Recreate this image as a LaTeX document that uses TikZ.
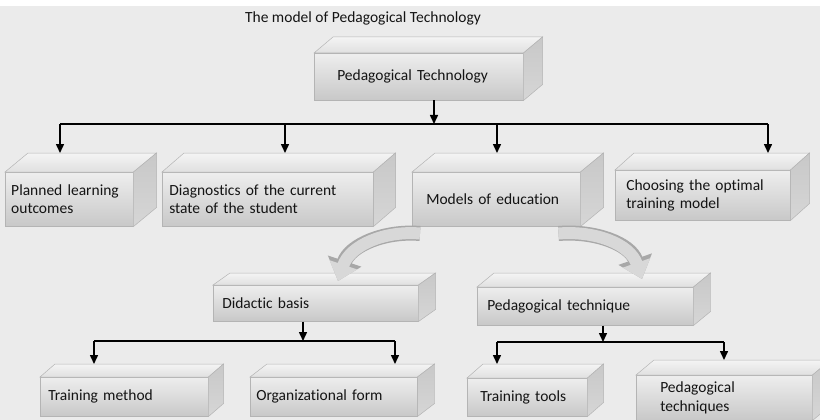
\documentclass[tikz,border=0pt]{standalone}
\usepackage{fontspec}
\setmainfont{Carlito}[RawFeature={-liga;-clig;-calt}]
\usepackage{tikz}
\usetikzlibrary{arrows.meta}
\definecolor{Pbg}{RGB}{235,235,235}
\definecolor{Pfront}{RGB}{238,238,238}
\definecolor{Pfront1}{RGB}{200,200,200}
\definecolor{Ptop}{RGB}{244,244,244}
\definecolor{Ptop1}{RGB}{224,224,224}
\definecolor{Pside}{RGB}{200,200,200}
\definecolor{Pside1}{RGB}{214,214,214}
\definecolor{Pedge}{RGB}{180,180,180}
\definecolor{Ptext}{RGB}{20,20,20}
\definecolor{Pswoosh}{RGB}{216,216,216}
\definecolor{Pswoosh1}{RGB}{168,168,168}
\newcommand\pfont{\fontsize{15.5}{18.5}\selectfont}
\tikzset{
    cube/.style={anchor=north west, inner ysep=0pt, align=left,
                 top color=Pfront, bottom color=Pfront1, draw=Pedge,
                 line width=0.5pt, font=\pfont, text=Ptext},
    cubetop/.style={top color=Ptop, bottom color=Ptop1, draw=Pedge, line width=0.5pt},
    cubeside/.style={top color=Pside, bottom color=Pside1, draw=Pedge, line width=0.5pt},
    link/.style={draw=black, line width=1.5pt},
    arr/.style={link, -{Triangle[width=8pt,length=9pt]}},
    swoosh/.style={draw=Pswoosh, line width=12pt, -{Triangle[width=28pt,length=17pt]}},
    swooshedge/.style={draw=Pswoosh1, line width=15pt, -{Triangle[width=34pt,length=21pt]}}
}

\begin{document}
\begin{tikzpicture}[x=1pt, y=-1pt]
    \useasboundingbox (0,0) rectangle (820,420);
    \fill[Pbg] (0,0) rectangle (820,420);
    \fill[white] (0,0) rectangle (820,6);

    \node[font=\pfont, text=Ptext, anchor=base] (title) at (363,23)
            {The model of Pedagogical Technology};

    % front faces
    \node[cube, inner xsep=23pt, text width=163pt, minimum height=47pt] (ptech) at (314,53)
            {Pedagogical Technology};
    \node[cube, inner xsep=6pt, text width=116pt, minimum height=54pt] (plan) at (5,172)
            {Planned learning\\outcomes};
    \node[cube, inner xsep=7pt, text width=197pt, minimum height=54pt] (diag) at (162,172)
            {Diagnostics of the current\\state of the student};
    \node[cube, inner xsep=14pt, text width=140pt, minimum height=54pt] (models) at (412,172)
            {Models of education};
    \node[cube, inner xsep=11pt, text width=153pt, minimum height=50pt] (choose) at (615,170)
            {Choosing the optimal\\training model};
    \node[cube, inner xsep=9pt, text width=187pt, minimum height=36pt] (didactic) at (213,285)
            {Didactic basis};
    \node[cube, inner xsep=10pt, text width=196pt, minimum height=38pt] (pedtech) at (477,287)
            {Pedagogical technique};
    \node[cube, inner xsep=8pt, text width=152pt, minimum height=39pt] (method) at (40,377)
            {Training method};
    \node[cube, inner xsep=6pt, text width=155pt, minimum height=39pt] (orgform) at (250,377)
            {Organizational form};
    \node[cube, inner xsep=13pt, text width=94pt, minimum height=38pt] (tools) at (467,378)
            {Training tools};
    \node[cube, inner xsep=24pt, text width=128pt, minimum height=45pt] (pedtechs) at (636,375)
            {Pedagogical\\techniques};

    % top and side faces
    \foreach \n/\ddx/\ddy in {ptech/19/16, plan/23/19, diag/22/19, models/23/19,
            choose/19/17, didactic/17/12, pedtech/17/14, method/15/13,
            orgform/17/13, tools/16/14, pedtechs/18/15} {
        \path[cubetop] (\n.north west) -- ++(\ddx,-\ddy)
            -- ([shift={(\ddx,-\ddy)}]\n.north east) -- (\n.north east) -- cycle;
        \path[cubeside] (\n.north east) -- ++(\ddx,-\ddy)
            -- ([shift={(\ddx,-\ddy)}]\n.south east) -- (\n.south east) -- cycle;
        \coordinate (\n-t) at ([shift={(\ddx,-\ddy)}]\n.north);
    }

    % first level
    \coordinate (hub) at (434,124);
    \coordinate (b1) at (60,124);
    \coordinate (b2) at (285,124);
    \coordinate (b3) at (497,124);
    \coordinate (b4) at (768,124);
    \draw[arr] (hub |- ptech.south) -- (hub);
    \draw[link] (b1) -- (b4);
    \foreach \b/\n in {b1/plan, b2/diag, b3/models, b4/choose}
        \draw[arr] (\b) -- (\b |- \n-t);

    % second level
    \coordinate (hubl) at (303,341);
    \coordinate (c1) at (94,341);
    \coordinate (c2) at (395,341);
    \coordinate (hubr) at (603,342);
    \coordinate (d1) at (497,342);
    \coordinate (d2) at (724,342);
    \draw[arr] (hubl |- didactic.south) -- (hubl);
    \draw[arr] (hubr |- pedtech.south) -- (hubr);
    \draw[link] (c1) -- (c2);
    \draw[link] (d1) -- (d2);
    \foreach \b/\n in {c1/method, c2/orgform, d1/tools, d2/pedtechs}
        \draw[arr] (\b) -- (\b |- \n-t);

    % curved arrows
    \foreach \s in {swooshedge, swoosh} {
        \draw[\s] ([shift={(8,7)}]models.south west) .. controls +(-35,-3) and +(12,-36)
            .. ([shift={(125,-4)}]didactic.north west);
        \draw[\s] ([shift={(-22,7)}]models.south east) .. controls +(37,-3) and +(-12,-35)
            .. ([shift={(165,-8)}]pedtech.north west);
    }
\end{tikzpicture}
\end{document}
